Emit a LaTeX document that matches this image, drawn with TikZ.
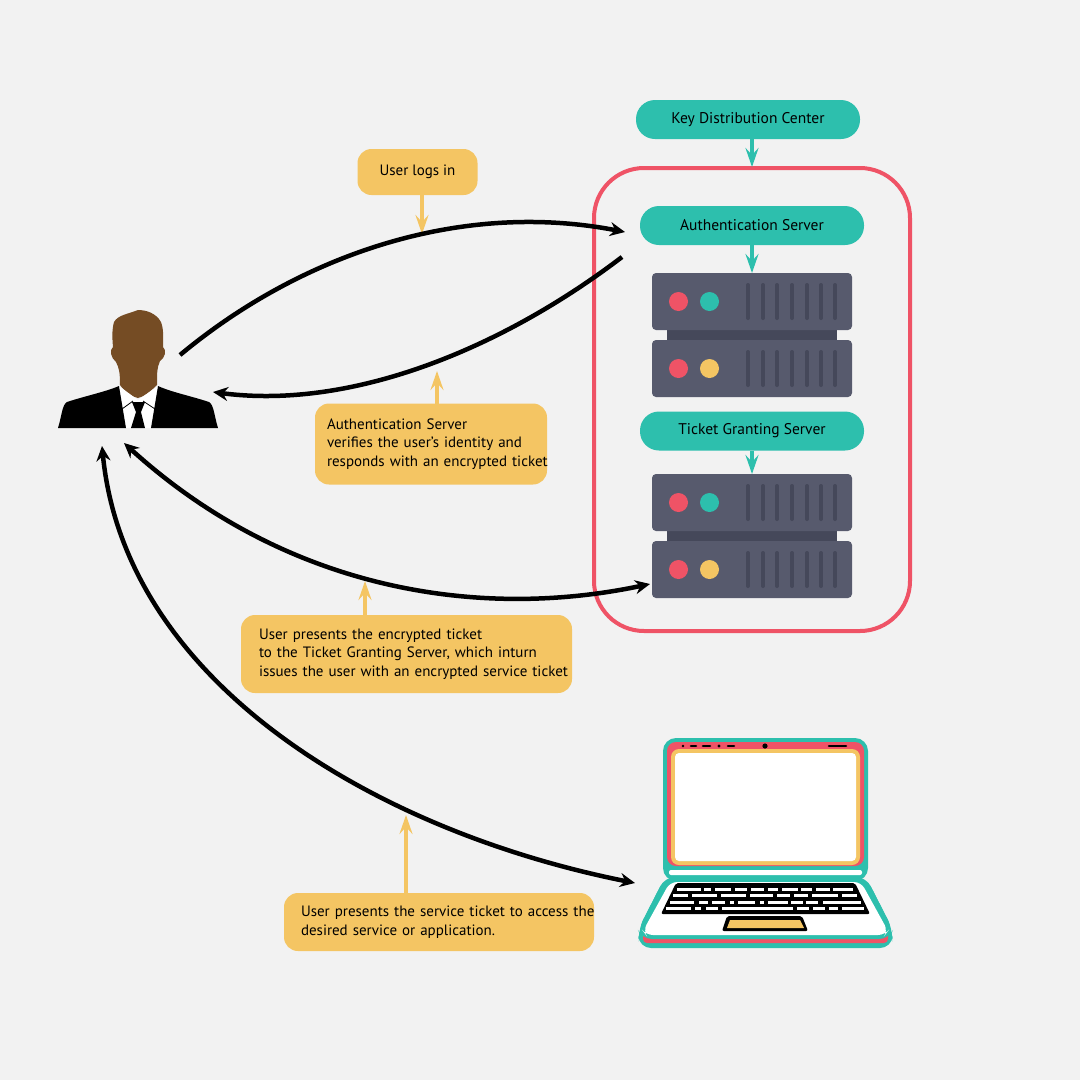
\documentclass[tikz,border=0pt]{standalone}
\usepackage{fontspec}
\setmainfont{PT Sans}
\usetikzlibrary{arrows.meta}
\definecolor{bgcol}{HTML}{F2F2F2}
\definecolor{tealcol}{HTML}{2DBFAD}
\definecolor{redcol}{HTML}{EF5366}
\definecolor{yellowcol}{HTML}{F4C563}
\definecolor{servercol}{HTML}{575A6D}
\definecolor{slotcol}{HTML}{45485A}
\definecolor{skincol}{HTML}{754C24}
\tikzstyle{tealbox}=[rounded corners=19, fill=tealcol, minimum height=39, minimum width=224, inner sep=0, font=\fontsize{15.5}{18}\selectfont]
\tikzstyle{yellowbox}=[rounded corners=14, fill=yellowcol, inner sep=0, align=left, font=\fontsize{15}{18.5}\selectfont]
\tikzstyle{flowline}=[black, line width=4.5, -{Stealth[length=15, width=14, inset=5]}]
\tikzstyle{twoway}=[black, line width=4.5, {Stealth[length=15, width=14, inset=5]}-{Stealth[length=15, width=14, inset=5]}]
\tikzstyle{tealline}=[tealcol, line width=4.5, -{Stealth[length=19, width=13, inset=7]}]
\tikzstyle{yellowline}=[yellowcol, line width=4.5, -{Stealth[length=19, width=13, inset=7]}]
\tikzstyle{slot}=[slotcol, line width=4, line cap=round]
% one rack unit, #1 = top edge, #2 = colour of second lamp
\newcommand{\drawrackunit}[2]{
  \fill[servercol, rounded corners=4] (652,#1) rectangle (852,#1+57);
  \fill[redcol] (678.5,#1+28.5) circle (9.5);
  \fill[#2] (709.5,#1+28.5) circle (9.5);
  \foreach \xslot in {748,763,777,792,807,821,835}
    \draw[slot] (\xslot,#1+12) -- (\xslot,#1+45);
}
\newcommand{\drawserver}[1]{
  \fill[slotcol] (667,#1+50) rectangle (837,#1+75);
  \drawrackunit{#1}{tealcol}
  \drawrackunit{#1+67}{yellowcol}
}
\newcommand{\oneline}[1]{\mbox{#1}}
\begin{document}
\begin{tikzpicture}[x=1, y=-1]
  \fill[bgcol] (0,0) rectangle (1080,1080);
  \useasboundingbox (0,0) rectangle (1080,1080);
  % key distribution center
  \draw[redcol, line width=4, rounded corners=50] (594,168) rectangle (910,631);
  \drawserver{273}
  \drawserver{474}
  \node[tealbox] (KDC) at (748,119.5) {Key Distribution Center};
  \node[tealbox] (AS) at (752,225.5) {Authentication Server};
  \node[tealbox] (TGS) at (752,431) {Ticket Granting Server};
  \coordinate (Rack1) at (752,273);
  \coordinate (Rack2) at (752,474);
  \coordinate (Frame) at (752,167);
  \draw[tealline] (752,139) -- (Frame);
  \draw[tealline] (AS.south) -- (Rack1);
  \draw[tealline] (TGS.south) -- (Rack2);
  % user
  \fill[skincol] (138,310) .. controls (146,310) and (156,313) .. (161,322)
    .. controls (164,330) and (163,338) .. (163,347)
    .. controls (167,350) and (165,358) .. (160,361)
    .. controls (157,368) and (157,372) .. (157,385)
    .. controls (150,392) and (143,397) .. (138,398)
    .. controls (132,397) and (125,392) .. (120,385)
    .. controls (120,372) and (119,368) .. (116,362)
    .. controls (111,358) and (109,350) .. (113,347)
    .. controls (112,335) and (112,330) .. (114,322)
    .. controls (118,315) and (128,314) .. (138,310) -- cycle;
  \fill[white] (119,386) -- (138,400) -- (158,386) -- (157,428) -- (119,428) -- cycle;
  \fill[black] (58,428) .. controls (62,415) and (62,405) .. (67,402)
    .. controls (85,396) and (105,392) .. (119,386) -- (126,428) -- cycle;
  \fill[black] (218,428) .. controls (214,415) and (214,405) .. (209,402)
    .. controls (191,396) and (171,392) .. (158,386) -- (151,428) -- cycle;
  \draw[black, line width=0.8] (122,409) -- (133,401) (143,401) -- (155,409);
  \fill[black] (132,402) -- (145,402) -- (141,412) -- (145,428) -- (131,428) -- (136,412) -- cycle;
  \coordinate (UserOut) at (180,355);
  \coordinate (UserIn) at (213,392);
  \coordinate (UserTicket) at (124,443);
  \coordinate (UserService) at (102,446);
  % laptop
  \fill[tealcol, rounded corners=13] (663,738) rectangle (868,881);
  \fill[white, rounded corners=2] (669,870) rectangle (862,875);
  \fill[redcol, rounded corners=9] (667,742) rectangle (864,866);
  \fill[yellowcol, rounded corners=8] (671,749) rectangle (860,865);
  \fill[white, rounded corners=4] (675,753) rectangle (856,861);
  \fill[black] (683,746) circle (1.3) (719,746) circle (1.6) (765,746) circle (2.6);
  \draw[black, line width=2.6, line cap=round] (691,746) -- (696,746) (703,746) -- (710,746) (728,746) -- (734,746) (829,746) -- (846,746);
  \fill[tealcol, rounded corners=12] (665,877) -- (866,877) -- (893,930) -- (892,948) -- (639,948) -- (638,930) -- cycle;
  \fill[redcol, rounded corners=4] (643,925) rectangle (888,943);
  \fill[tealcol, rounded corners=10] (665,877) -- (866,877) -- (893,930) -- (889,939) -- (642,939) -- (638,930) -- cycle;
  \fill[white, rounded corners=7] (670,882) -- (861,882) -- (888,931) -- (885,935) -- (646,935) -- (643,931) -- cycle;
  \fill[black, rounded corners=2] (676,883) -- (855,883) -- (870,914) -- (661,914) -- cycle;
  \foreach \xa/\xb/\yk in {
    677/701/889, 704/711/889, 715/731/889, 735/747/889, 751/764/889, 768/778/889, 782/798/889, 801/812/889, 816/830/889, 833/853/889,
    673/688/895.5, 692/717/895.5, 721/746/895.5, 750/773/895.5, 777/790/895.5, 794/808/895.5, 812/838/895.5, 842/857/895.5,
    670/694/902, 699/708/902, 712/725/902, 730/734/902, 738/755/902, 760/764/902, 768/788/902, 791/803/902, 806/818/902, 823/861/902,
    666/691/908.5, 695/701/908.5, 706/718/908.5, 722/793/908.5, 797/809/908.5, 813/825/908.5, 829/838/908.5, 842/864/908.5
  }
    \draw[white, line width=3] (\xa,\yk) -- (\xb,\yk);
  \fill[black, rounded corners=2] (727,916) -- (802,916) -- (808,931) -- (722,931) -- cycle;
  \fill[yellowcol] (730,920) -- (800,920) -- (804,928) -- (727,928) -- cycle;
  \coordinate (LaptopIn) at (635,883);
  % labels
  \node[yellowbox, minimum width=120, minimum height=46, align=center] (Login) at (417.5,172) {User logs in};
  \node[yellowbox, minimum width=232, minimum height=81, text width=208] (Verify) at (431,444) {\oneline{Authentication Server}\\\oneline{verifies the user's identity and}\\\oneline{responds with an encrypted ticket}};
  \node[yellowbox, minimum width=331, minimum height=78, text width=295] (Present) at (406.5,654) {\oneline{User presents the encrypted ticket}\\\oneline{to the Ticket Granting Server, which inturn}\\\oneline{issues the user with an encrypted service ticket}};
  \node[yellowbox, minimum width=310, minimum height=58, text width=276] (Access) at (439,922) {\oneline{User presents the service ticket to access the}\\\oneline{desired service or application.}};
  \coordinate (LoginTip) at (422,234);
  \coordinate (VerifyTip) at (437,371);
  \coordinate (PresentTip) at (365,581);
  \coordinate (AccessTip) at (406,815);
  \draw[yellowline] (422,195) -- (LoginTip);
  \draw[yellowline] (437,404) -- (VerifyTip);
  \draw[yellowline] (365,615) -- (PresentTip);
  \draw[yellowline] (406,893) -- (AccessTip);
  % main arrows
  \coordinate (ASin) at (625,232);
  \coordinate (ASout) at (622,257);
  \coordinate (TGSport) at (650,584);
  \draw[flowline] (UserOut) .. controls (300,255) and (460,200) .. (ASin);
  \draw[flowline] (ASout) .. controls (500,350) and (350,410) .. (UserIn);
  \draw[twoway] (UserTicket) .. controls (280,585) and (470,622) .. (TGSport);
  \draw[twoway] (UserService) .. controls (125,680) and (370,830) .. (LaptopIn);
\end{tikzpicture}
\end{document}
